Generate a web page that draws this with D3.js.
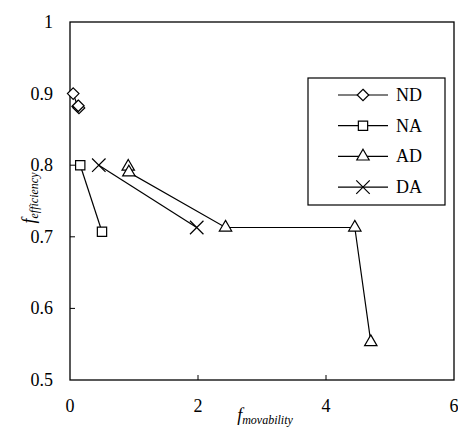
<!DOCTYPE html>
<html>
<head>
<meta charset="utf-8">
<script src="https://d3js.org/d3.v7.min.js"></script>
<style>
  body { margin: 0; background: #fff; }
  text { font-family: "Liberation Serif", "Times New Roman", Times, "DejaVu Serif", serif; }
</style>
</head>
<body>
<svg id="chart" width="458" height="430"></svg>
<script>
// series values
var seriesNames = ["ND", "NA", "AD", "DA"];
var ndX = [0.05, 0.12, 0.14, 0.13];
var ndY = [0.900, 0.882, 0.880, 0.883];
var naX = [0.16, 0.50];
var naY = [0.800, 0.707];
var adX = [0.91, 0.92, 2.43, 4.45, 4.70];
var adY = [0.798, 0.790, 0.713, 0.713, 0.553];
var daX = [0.45, 1.98];
var daY = [0.800, 0.713];
var xTicks = [0, 2, 4, 6];
var yTicks = [0.5, 0.6, 0.7, 0.8, 0.9, 1];

var svg = d3.select("#chart");
var x = d3.scaleLinear().domain([0, 6]).range([70, 454]);
var y = d3.scaleLinear().domain([0.5, 1]).range([380, 22]);

// plot frame
svg.append("rect")
  .attr("x", x(0)).attr("y", y(1))
  .attr("width", x(6) - x(0)).attr("height", y(0.5) - y(1))
  .attr("fill", "none").attr("stroke", "#000").attr("stroke-width", 1.3);

// inside ticks
svg.append("g").selectAll("line").data(xTicks.slice(1, -1)).join("line")
  .attr("x1", d => x(d)).attr("x2", d => x(d))
  .attr("y1", y(0.5)).attr("y2", y(0.5) - 5)
  .attr("stroke", "#000");
svg.append("g").selectAll("line").data(yTicks.slice(1, -1)).join("line")
  .attr("x1", x(0)).attr("x2", x(0) + 5)
  .attr("y1", d => y(d)).attr("y2", d => y(d))
  .attr("stroke", "#000");

// tick labels
svg.append("g").selectAll("text").data(xTicks).join("text")
  .attr("x", d => x(d)).attr("y", 412)
  .attr("text-anchor", "middle").attr("font-size", 18)
  .text(d => d);
svg.append("g").selectAll("text").data(yTicks).join("text")
  .attr("x", 53).attr("y", d => y(d) + 6)
  .attr("text-anchor", "end").attr("font-size", 18)
  .text(d => d);

// axis titles
var xt = svg.append("text").attr("x", 265).attr("y", 421)
  .attr("text-anchor", "middle").attr("font-style", "italic");
xt.append("tspan").attr("font-size", 18).text("f");
xt.append("tspan").attr("font-size", 12).attr("dy", 3).text("movability");

var yt = svg.append("text")
  .attr("transform", "translate(35,198) rotate(-90)")
  .attr("text-anchor", "middle").attr("font-style", "italic");
yt.append("tspan").attr("font-size", 18).text("f");
yt.append("tspan").attr("font-size", 12).attr("dy", 3).text("efficiency");

var symbols = {
  ND: d3.symbol().type(d3.symbolDiamond2).size(85),
  NA: d3.symbol().type(d3.symbolSquare2).size(110),
  AD: d3.symbol().type(d3.symbolTriangle2).size(110),
  DA: d3.symbol().type(d3.symbolX).size(120)
};
function pts(xs, ys) { return xs.map((v, i) => [v, ys[i]]); }
var series = [
  {name: "ND", pts: pts(ndX, ndY)},
  {name: "NA", pts: pts(naX, naY)},
  {name: "AD", pts: pts(adX, adY)},
  {name: "DA", pts: pts(daX, daY)}
];
var line = d3.line().x(d => x(d[0])).y(d => y(d[1]));

function marker(g, name, cx, cy) {
  g.append("path")
    .attr("d", symbols[name]())
    .attr("transform", `translate(${cx},${cy})`)
    .attr("fill", "#fff").attr("stroke", "#000").attr("stroke-width", 1.2);
}

series.forEach(s => {
  var g = svg.append("g");
  g.append("path").attr("d", line(s.pts))
    .attr("fill", "none").attr("stroke", "#000").attr("stroke-width", 1.2);
  s.pts.forEach(p => marker(g, s.name, x(p[0]), y(p[1])));
});

// legend
var lg = svg.append("g");
lg.append("rect").attr("x", 308).attr("y", 78).attr("width", 137).attr("height", 127)
  .attr("fill", "#fff").attr("stroke", "#000").attr("stroke-width", 1.2);
seriesNames.forEach((n, i) => {
  var ly = 95 + i * 30.7;
  lg.append("line").attr("x1", 338).attr("x2", 388).attr("y1", ly).attr("y2", ly)
    .attr("stroke", "#000").attr("stroke-width", 1.2);
  marker(lg, n, 363, ly);
  lg.append("text").attr("x", 396).attr("y", ly + 6).attr("font-size", 18).text(n);
});
</script>
</body>
</html>
